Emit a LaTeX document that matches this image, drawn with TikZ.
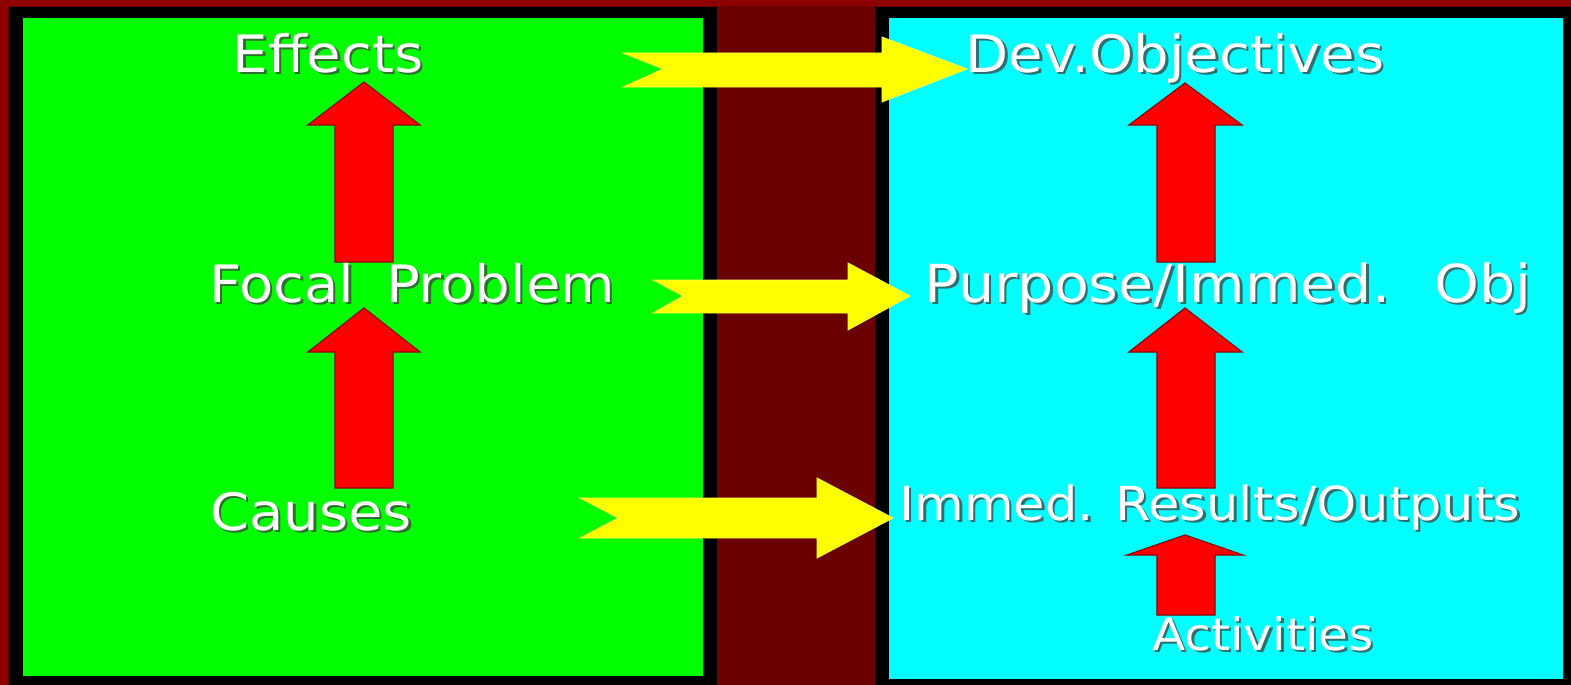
\documentclass[tikz,border=0pt]{standalone}
\usepackage{fontspec}
\usepackage{graphicx}
\setmainfont{DejaVu Sans}
\definecolor{maroonbg}{HTML}{6B0000}
\definecolor{maroonedge}{HTML}{8E0000}
\definecolor{boxgreen}{HTML}{00FF00}
\definecolor{boxcyan}{HTML}{00FFFF}
\definecolor{arrowred}{HTML}{FF0000}
\definecolor{arrowyellow}{HTML}{FFFF00}
\tikzset{
  redarrow/.style={fill=arrowred, draw=arrowred!55!black, line width=1.2pt, line join=miter},
  yellowarrow/.style={fill=arrowyellow, draw=arrowyellow!70!white, line width=0.8pt, line join=miter},
  lbltext/.style={text=white, inner sep=0pt, anchor=base},
  lblshadow/.style={text=black!75, inner sep=0pt, anchor=base, opacity=0.75},
}
\newcommand\lbl[5]{%
  \node[lblshadow, font=\fontsize{#4}{#4}\selectfont] (#1s) at (#2+2.5,#3+2.5) {\scalebox{1}[0.92]{#5}};
  \node[lbltext, font=\fontsize{#4}{#4}\selectfont] (#1) at (#2,#3) {\scalebox{1}[0.92]{#5}};
}
\begin{document}
\begin{tikzpicture}[x=1pt, y=-1pt]
\useasboundingbox (0,0) rectangle (1571,685);
% background
\fill[maroonbg] (0,0) rectangle (1571,685);
\fill[maroonedge] (0,0) rectangle (1571,6);
\fill[maroonedge] (0,0) rectangle (8,685);
% boxes
\fill[black] (9,7) rectangle (717,690);
\fill[boxgreen] (23,18) rectangle (703,676);
\fill[black] (875,7) rectangle (1580,690);
\fill[boxcyan] (889,18) rectangle (1563,679);
% red arrows left
\draw[redarrow] (335,262) -- (335,125) -- (308,125) -- (364,82) -- (420,125) -- (393,125) -- (393,262) -- cycle;
\draw[redarrow] (335,488) -- (335,352) -- (308,352) -- (364,308) -- (420,352) -- (393,352) -- (393,488) -- cycle;
% red arrows right
\draw[redarrow] (1157,262) -- (1157,125) -- (1129,125) -- (1185,83) -- (1242,125) -- (1215,125) -- (1215,262) -- cycle;
\draw[redarrow] (1157,488) -- (1157,352) -- (1129,352) -- (1185,308) -- (1242,352) -- (1215,352) -- (1215,488) -- cycle;
\draw[redarrow] (1157,615) -- (1157,555) -- (1127,555) -- (1185,535) -- (1243,555) -- (1215,555) -- (1215,615) -- cycle;
% yellow notched arrows
\draw[yellowarrow] (623,53) -- (882,53) -- (882,37) -- (967,69) -- (882,102) -- (882,87) -- (623,87) -- (663,69) -- cycle;
\draw[yellowarrow] (653,280) -- (848,280) -- (848,263) -- (910,296) -- (848,330) -- (848,313) -- (653,313) -- (683,296) -- cycle;
\draw[yellowarrow] (580,498) -- (817,498) -- (817,478) -- (893,518) -- (817,558) -- (817,538) -- (580,538) -- (618,518) -- cycle;
% labels
\lbl{effects}{328}{72}{56}{Effects}
\lbl{focal}{412}{302}{56}{Focal\hspace{0.25em} Problem}
\lbl{causes}{311}{530}{56}{Causes}
\lbl{devobj}{1175}{72}{56}{Dev.Objectives}
\lbl{purpose}{1228}{302}{57}{Purpose/Immed.\hspace{0.35em} Obj}
\lbl{results}{1210}{520}{51}{Immed. Results/Outputs}
\lbl{activities}{1263}{650}{48.5}{Activities}
\end{tikzpicture}
\end{document}
